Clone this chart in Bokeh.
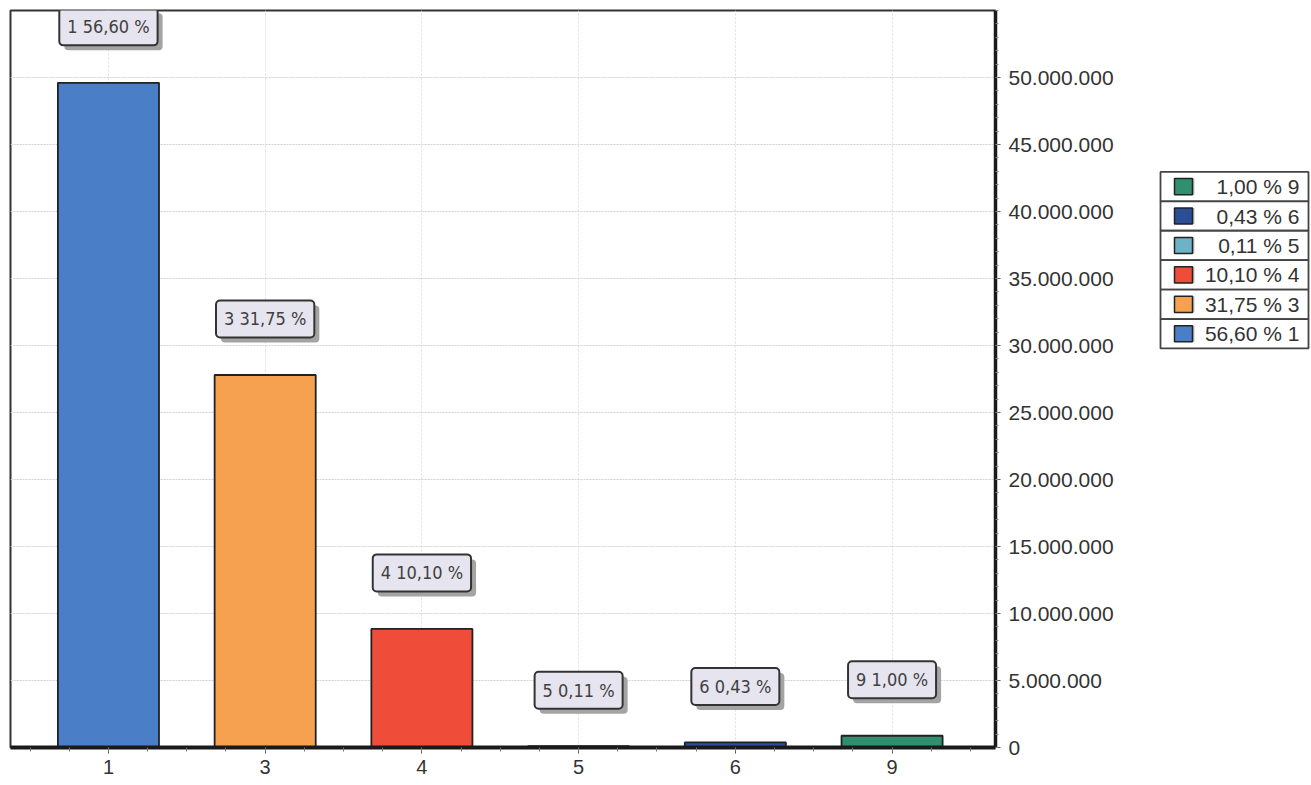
from bokeh.plotting import figure
from bokeh.models import (ColumnDataSource, Range1d, FixedTicker,
                          CustomJSTickFormatter, Label)
from bokeh.layouts import row
from bokeh.embed import file_html
from bokeh.resources import INLINE
from bokeh.core.properties import value

# ---- data ----
categories = ["1", "3", "4", "5", "6", "9"]
amounts = [49_600_000, 27_800_000, 8_850_000, 96_000, 377_000, 876_000]
percents = [56.60, 31.75, 10.10, 0.11, 0.43, 1.00]
colors = ["#4a7ec6", "#f5a150", "#ef4c3a", "#6cb3c7", "#2b4f96", "#2f8f6e"]
y_max = 55_000_000
y_tick_values = list(range(0, 50_000_001, 5_000_000))
y_minor_values = list(range(0, 55_000_001, 1_000_000))

FONT = "Liberation Sans"
LABEL_FONT = "'DejaVu Sans Condensed', 'Liberation Sans'"


def pct(v):
    return f"{v:.2f}".replace(".", ",") + " %"


xs = list(range(len(categories)))
src = ColumnDataSource(dict(x=xs, top=amounts, color=colors,
                            label=[f"{c} {pct(v)}" for c, v in zip(categories, percents)]))

p = figure(frame_width=985, frame_height=737,
           x_range=Range1d(-0.625, 5.66), y_range=Range1d(0, y_max),
           y_axis_location="right",
           output_backend="svg", toolbar_location=None,
           min_border_left=10, min_border_top=10, min_border_right=155, min_border_bottom=0)
p.background_fill_color = "white"
p.outline_line_color = "#333333"
p.outline_line_width = 2

y_ticker = FixedTicker(ticks=y_tick_values, minor_ticks=y_minor_values)

# grid
p.ygrid.ticker = y_ticker
p.ygrid.grid_line_color = "#d2d2d2"
p.ygrid.grid_line_dash = "2 1"
p.xgrid.grid_line_color = "#dedede"
p.xgrid.grid_line_dash = "2 2"

# bars
p.vbar(x="x", top="top", width=0.645, bottom=0, fill_color="color",
       line_color="#222222", line_width=1.8, source=src)

# x axis
xa = p.xaxis[0]
xa.ticker = FixedTicker(ticks=xs, minor_ticks=[i * 0.25 - 0.5 for i in range(4 * len(xs) + 1)])
xa.major_label_overrides = {i: c for i, c in zip(xs, categories)}
xa.axis_line_width = 4
xa.axis_line_color = "#1a1a1a"
xa.major_tick_out = 6
xa.major_tick_in = 0
xa.minor_tick_out = 4
xa.minor_tick_in = 0
xa.major_tick_line_color = "#555555"
xa.minor_tick_line_color = "#777777"
xa.major_label_text_font = FONT
xa.major_label_text_font_size = "20px"
xa.major_label_text_color = "#333333"
xa.major_label_standoff = 6

# y axis (right)
ya = p.yaxis[0]
ya.ticker = y_ticker
ya.formatter = CustomJSTickFormatter(
    code="return Math.round(tick).toString().replace(/\\B(?=(\\d{3})+(?!\\d))/g, '.');")
ya.axis_line_width = 3.5
ya.axis_line_color = "#1a1a1a"
ya.major_tick_out = 5
ya.major_tick_in = 0
ya.minor_tick_out = 3
ya.minor_tick_in = 0
ya.major_tick_line_color = "#555555"
ya.minor_tick_line_color = "#888888"
ya.major_label_text_font = FONT
ya.major_label_text_font_size = "21px"
ya.major_label_text_color = "#333333"
ya.major_label_standoff = 8

# callout labels above bars (shadow first, then the box)
LIFT = 56
PAD = (8, 8)
for x, top, txt in zip(xs, amounts, src.data["label"]):
    p.add_layout(Label(x=x, y=top, x_offset=5, y_offset=LIFT - 5, text=txt,
                       text_align="center", text_baseline="middle",
                       text_font=LABEL_FONT, text_font_size="18px", text_color="#a4a4a4",
                       background_fill_color="#a4a4a4", background_fill_alpha=1,
                       border_line_color=None, padding=PAD, border_radius=4))
    p.add_layout(Label(x=x, y=top, y_offset=LIFT, text=txt,
                       text_align="center", text_baseline="middle",
                       text_font=LABEL_FONT, text_font_size="18px", text_color="#404040",
                       background_fill_color="#e6e4ee", background_fill_alpha=1,
                       border_line_color="#333333", border_line_width=2,
                       padding=PAD, border_radius=4))

# ---- legend as a separate panel ----
LW, LH = 160, 770
lf = figure(width=LW, height=LH, x_range=Range1d(0, LW), y_range=Range1d(LH, 0),
            x_axis_location=None, y_axis_location=None,
            output_backend="svg", toolbar_location=None, min_border=0)
lf.grid.visible = False
lf.outline_line_color = None
lf.background_fill_color = "white"

order = list(reversed(xs))
row_h = 31
top0 = 170
tops = [top0 + k * row_h for k in range(len(order))]
leg = ColumnDataSource(dict(
    top=tops,
    bottom=[t + row_h for t in tops],
    mid=[t + row_h / 2 for t in tops],
    color=[colors[i] for i in order],
    text=[f"{pct(percents[i])} {categories[i]}" for i in order],
))
lf.quad(left=10, right=158, top="top", bottom="bottom", fill_color="white",
        line_color="#444444", line_width=1.8, source=leg)
lf.rect(x=35, y="mid", width=18, height=17, fill_color="#b5b5b5", fill_alpha=0.8,
        line_color=None, source=leg)
lf.rect(x=33, y="mid", width=18, height=17, fill_color="color", line_color="#222222",
        line_width=1.5, source=leg)
lf.text(x=149, y="mid", text="text", text_align="right", text_baseline="middle",
        text_font=value(FONT), text_font_size="21px", text_color="#333333", source=leg)

layout = row(p, lf)
open("out.html", "w").write(file_html(layout, INLINE))
